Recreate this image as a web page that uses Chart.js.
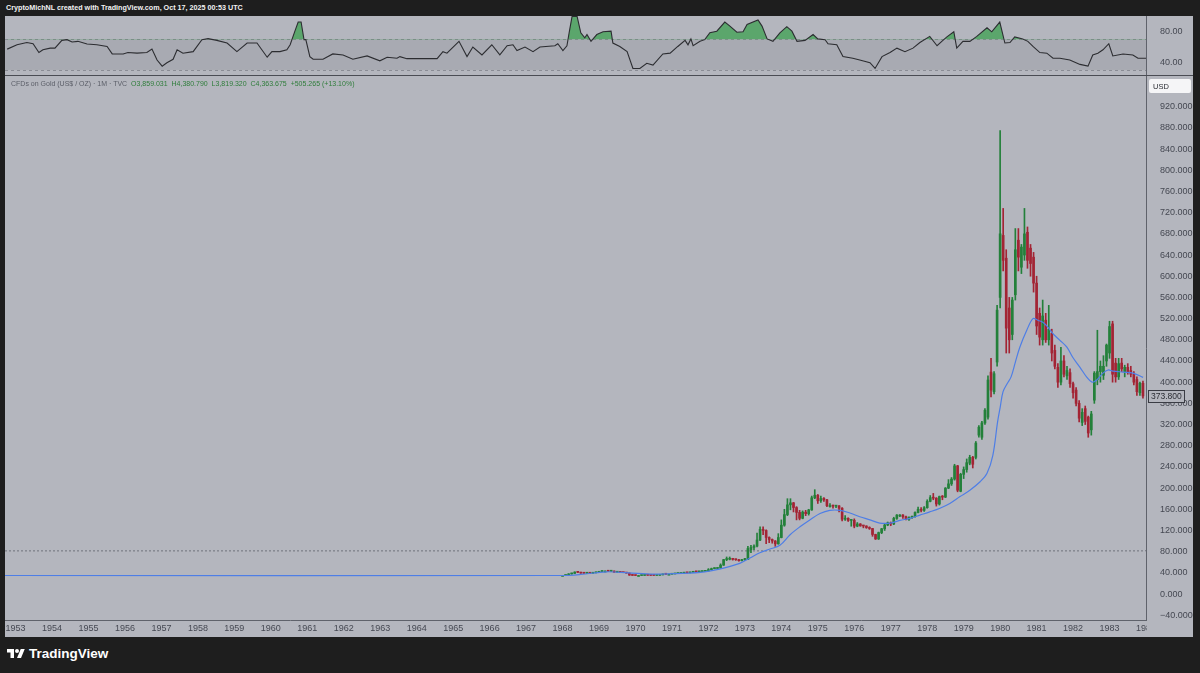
<!DOCTYPE html>
<html>
<head>
<meta charset="utf-8">
<script src="https://cdn.jsdelivr.net/npm/chart.js@4.4.0/dist/chart.umd.min.js"></script>
<style>
  html, body { margin: 0; padding: 0; background: #1e1e1e; }
  body { width: 1200px; height: 673px; position: relative; overflow: hidden; font-family: 'Liberation Sans', Arial, sans-serif; }
  #header { position: absolute; left: 6px; top: 3px; color: #f2f2f2; font-size: 7.2px; font-weight: bold; }
  #panel { position: absolute; left: 5px; top: 16px; width: 1188px; height: 621px; background: #b4b6be; }
  #rsiBox { position: absolute; left: 0; top: 0; width: 1188px; height: 59px; }
  #sep { position: absolute; left: 0; top: 59px; width: 1188px; height: 1px; background: #4a4c54; }
  #mainBox { position: absolute; left: 0; top: 60px; width: 1188px; height: 561px; }
  #legend { position: absolute; left: 6px; top: 64px; font-size: 7px; color: #5b5e68; white-space: pre; }
  #legend .v { color: #2f7d3b; }
  #logo { position: absolute; left: 7px; top: 646px; color: #fff; font-size: 13.5px; font-weight: bold; display: flex; align-items: center; gap: 4px; }
</style>
</head>
<body>
<div id="header">CryptoMichNL created with TradingView.com, Oct 17, 2025 00:53 UTC</div>
<div id="panel">
  <div id="rsiBox"><canvas id="rsi" width="1188" height="59"></canvas></div>
  <div id="sep"></div>
  <div id="mainBox"><canvas id="main" width="1188" height="561"></canvas></div>
  <div id="legend">CFDs on Gold (US$ / OZ) · 1M · TVC  <span class="v">O3,859.031  H4,380.790  L3,819.320  C4,363.675  +505.265 (+13.10%)</span></div>
</div>
<div id="logo">
  <svg width="18" height="13" viewBox="0 0 36 26"><path d="M14 22H7V11H0V4h14v18z" fill="#fff"/><circle cx="20" cy="8" r="4" fill="#fff"/><path d="M28 22h-8l7.5-18h8L28 22z" fill="#fff"/></svg>
  <span>TradingView</span>
</div>
<script>
// visible time window (fractional years) and axis ticks
const xMin = 1952.71;
const xMax = 1984.0;
const yearTicks = [1953,1954,1955,1956,1957,1958,1959,1960,1961,1962,1963,1964,1965,1966,1967,1968,
  1969,1970,1971,1972,1973,1974,1975,1976,1977,1978,1979,1980,1981,1982,1983,1984];
const priceTicks = [-40,0,40,80,120,160,200,240,280,320,360,400,440,480,520,560,600,640,680,720,760,800,840,880,920];
const rsiTicks = [40, 80];

// monthly candles, Jan 1968 .. Dec 1983
const candleStart = 1968;
const opens = [
  35.1,35.1,35.2,38.0,39.0,41.5,41.0,39.5,39.3,39.6,39.3,40.2,
  41.1,42.5,43.3,43.3,43.1,43.5,41.2,42.0,40.9,40.5,39.6,35.8,
  35.2,35.0,35.0,35.2,35.9,35.5,35.4,35.3,35.4,36.2,37.5,37.4,
  37.4,38.0,38.8,38.9,39.5,40.5,40.1,41.0,42.7,42.0,42.5,42.9,
  43.6,46.0,48.0,48.3,49.0,54.6,65.0,65.7,67.0,65.5,64.9,62.9,
  64.9,65.1,84.0,88.0,90.5,102,122,120,106.8,103,100.1,94.8,
  106.7,130,150,168.4,172.2,163.3,154.1,143,154.6,151.8,158.8,181.7,
  186.5,176,180.5,178,167,167,166,166.5,162,141.3,143,139,
  139.3,128.2,132.3,128.6,128.4,125.5,123.8,112.5,104,116,123.2,130.3,
  134.5,132.3,142.8,149.2,149.2,146,141,145,146,154,160,158,
  163,175,182,181,170,184,183,200,208,217,242,194,
  226,235,247,258,258,300,296,323,334,419,382,438,
  560,677,634,540,490,565,668,617,640,683,653,636,
  587,530,480,517,480,492,460,428,400,440,412,418,
  397,385,360,324,350,334,310,366,405,420,413,440,
  455,510,436,410,436,420,428,422,415,405,380,398
];
const highs = [
  35.2,35.2,38.5,39.5,42.0,42.0,41.3,39.8,39.8,40.0,40.5,41.5,
  42.6,43.6,43.8,43.6,43.8,43.6,42.3,42.2,41.0,40.6,39.8,36.0,
  35.3,35.2,35.3,36.0,36.0,35.6,35.5,35.5,36.3,37.6,37.7,37.5,
  38.1,38.9,39.0,39.6,40.6,40.7,41.2,43.0,42.9,42.6,43.0,43.8,
  48.0,49.0,49.5,50.0,57.0,65.5,70.0,70.0,67.5,66.0,65.5,65.5,
  67.5,90,92,93,115,127,127,121,108,104,101,114,
  140,160,180,180,173,165,158,157,158,160,185,197,
  188,185,182,179,171,168,167,167,163,148,144,141,
  142,135,133,130,129,127,124,113,117,124,132,136,
  136,145,150,150,150,147,146,147,155,164,163,165,
  178,186,190,182,185,186,201,216,220,245,243,228,
  240,255,262,260,288,318,326,350,412,445,420,545,
  875,728,650,560,560,690,690,660,728,693,660,645,
  600,540,555,530,545,500,470,435,466,450,430,425,
  400,390,365,350,355,336,345,420,498,440,450,472,
  515,515,445,445,445,432,435,430,420,410,400,402
];
const lows = [
  35.0,35.0,35.1,37.5,38.8,40.5,39.0,38.8,39.0,39.0,39.0,40.0,
  41.0,42.3,42.8,42.8,42.8,41.0,41.0,40.7,40.3,39.3,35.2,35.0,
  34.8,34.9,34.9,35.1,35.4,35.2,35.1,35.2,35.3,36.0,37.2,37.2,
  37.3,37.9,38.5,38.7,39.4,40.0,40.0,40.8,41.9,41.8,42.3,42.7,
  43.5,45.5,47.5,48.0,48.8,54.0,63.0,64.5,64.0,63.5,62.0,62.5,
  63.5,65,78,84,89,101,112,95,97,96,90,94,
  106,128,148,159,155,140,140,142,148,149,158,180,
  171,173,175,165,164,162,163,155,138,139,137,128,
  125,127,128,125,124,122,109,103,103,114,120,129,
  129,131,141,146,143,140,139,143,145,153,155,156,
  162,174,178,166,168,178,182,199,205,215,193,193,
  218,230,244,238,255,296,292,320,330,372,378,430,
  540,610,455,455,480,555,610,605,630,615,600,570,
  490,470,470,475,470,440,425,390,395,410,405,390,
  370,355,325,318,320,296,300,360,395,400,405,430,
  445,400,400,405,420,410,415,410,395,375,375,370
];
const closes = [
  35.1,35.2,38.0,39.0,41.5,41.0,39.5,39.3,39.6,39.3,40.2,41.1,
  42.5,43.3,43.3,43.1,43.5,41.2,42.0,40.9,40.5,39.6,35.8,35.2,
  35.0,35.0,35.2,35.9,35.5,35.4,35.3,35.4,36.2,37.5,37.4,37.4,
  38.0,38.8,38.9,39.5,40.5,40.1,41.0,42.7,42.0,42.5,42.9,43.6,
  46.0,48.0,48.3,49.0,54.6,65.0,65.7,67.0,65.5,64.9,62.9,64.9,
  65.1,86,88,90.5,102,122,120,106.8,103,100.1,94.8,106.7,
  130,150,168.4,172.2,163.3,154.1,143,154.6,151.8,158.8,181.7,186.5,
  176,180.5,178,167,167,166,166.5,162,141.3,143,139,139.3,
  128.2,132.3,128.6,128.4,125.5,123.8,112.5,104,116,123.2,130.3,134.5,
  132.3,142.8,149.2,149.2,146,141,145,146,154,160,158,163,
  175,182,181,170,184,183,200,208,217,242,196,226,
  235,248,258,245,285,315,323,347,404,385,416,536,
  680,630,502,480,555,650,636,655,680,630,624,587,
  506,485,525,480,500,455,430,400,440,415,422,397,
  380,360,332,343,326,304,340,417,420,430,430,470,
  505,415,410,435,425,428,420,415,400,382,398,374
];

// moving average line: [year, price]
const maYears = [1952.71,1968.0,1968.5,1969.2,1969.8,1970.5,1971.3,1971.9,1972.3,1972.86,1973.14,1973.41,1973.69,1973.96,
  1974.24,1974.51,1974.78,1975.06,1975.33,1975.61,1975.88,1976.15,1976.43,1976.70,1976.98,1977.25,1977.53,1977.80,
  1978.07,1978.35,1978.62,1978.90,1979.17,1979.45,1979.64,1979.80,1979.93,1980.0,1980.08,1980.2,1980.3,1980.41,
  1980.54,1980.73,1980.90,1981.03,1981.17,1981.31,1981.44,1981.64,1981.83,1981.99,1982.19,1982.38,1982.52,1982.65,
  1982.82,1982.96,1983.09,1983.37,1983.64,1983.92];
const maValues = [35,35,37,42,40,37.5,39,42,47,58,68,78,85,92,
  112,127,140,152,158,158,153,146,140,134,134,139,143,149,
  155,162,171,184,196,212,228,262,325,352,382,398,410,436,
  466,498,520,517,513,504,492,479,466,447,428,409,400,404,
  417,423,421,419,417,409];

// horizontal level line
const levelPrice = 81.5;
const lastPrice = 373.8;

// RSI pane readings: [year, rsi]
const rsiYears = [1952.77,1953.04,1953.31,1953.48,1953.64,1953.75,1953.95,1954.08,1954.27,1954.41,1954.55,1954.71,1954.96,
  1955.23,1955.51,1955.65,1955.95,1956.08,1956.33,1956.60,1956.74,1956.88,1957.02,1957.15,1957.32,1957.43,1957.59,1957.87,
  1958.11,1958.28,1958.52,1958.80,1959.07,1959.35,1959.62,1959.90,1960.03,1960.25,1960.44,1960.53,1960.66,1960.75,1960.83,
  1960.91,1960.96,1961.07,1961.16,1961.43,1961.70,1961.98,1962.25,1962.64,1962.99,1963.19,1963.46,1963.54,1963.73,1964.56,
  1964.72,1964.83,1965.16,1965.38,1965.54,1965.79,1966.06,1966.28,1966.48,1966.64,1966.75,1966.97,1967.19,1967.38,1967.79,
  1967.87,1968.01,1968.12,1968.18,1968.26,1968.40,1968.50,1968.61,1968.67,1968.78,1968.94,1969.11,1969.33,1969.38,1969.57,
  1969.77,1969.93,1970.12,1970.31,1970.48,1970.75,1970.95,1971.16,1971.36,1971.44,1971.52,1971.58,1971.77,1971.90,1972.04,
  1972.23,1972.45,1972.59,1972.78,1972.95,1973.06,1973.36,1973.47,1973.61,1973.77,1973.96,1974.15,1974.29,1974.43,1974.65,
  1974.87,1975.00,1975.20,1975.28,1975.52,1975.69,1975.96,1976.15,1976.43,1976.57,1976.76,1976.98,1977.17,1977.39,1977.61,
  1977.80,1978.07,1978.27,1978.40,1978.54,1978.73,1978.81,1978.98,1979.17,1979.36,1979.64,1979.77,1979.99,1980.13,1980.27,
  1980.40,1980.62,1980.76,1980.90,1981.09,1981.28,1981.45,1981.64,1981.91,1982.19,1982.41,1982.54,1982.68,1982.82,1982.98,
  1983.09,1983.37,1983.64,1983.78,1984.0];
const rsiValues = [57.3,63,66,64.4,52.8,56.4,58.6,58.6,68.8,69.7,66.6,67.5,64,
  63,60.8,51,51,52.8,52,52.8,57.3,43,35,39.5,44,56.4,52,54,
  69.7,71,68.8,65.3,54,65.3,65.3,46.7,54,54,56.4,63,80.8,92.8,92.8,
  69.7,69.7,47.5,44,44,51,49.7,44,48.4,42,46.7,45.3,47.5,44.8,44.8,
  54,52,67.5,47.5,60,49.7,63,49.7,61.7,63,55.5,60,54,60,61.7,
  64.4,55.5,61.7,78.7,100,100,78.7,72,76.4,67.5,76.4,80,80.8,65.3,60.8,
  54,32,32,38.7,36.4,51,52,60.8,68.8,63,70.7,61.7,67.5,69.7,78.7,
  80.8,92.8,87.5,79.5,80,89.7,95.5,87.5,70.7,67.5,78.7,86.7,80.8,67.5,68.8,
  76.4,70.7,69.7,64.4,63,47.5,45.3,43,39.5,32,47.5,52.8,58.6,54,58.6,
  66,74,61.7,67.5,73.3,80,58.6,67.5,67.5,74,85.3,80,92.8,65.3,66,
  73.3,70.7,67.5,60.8,52.8,52,45.3,45.3,43,37.3,35,49.7,52,56.4,64.4,
  48.4,51,49.7,45.3,45.3];
const rsiUpper = 70;
const rsiLower = 30;

Chart.defaults.animation = false;
Chart.defaults.font.family = "'Liberation Sans', Arial, sans-serif";
Chart.defaults.font.size = 9;
Chart.defaults.color = '#454852';

const bg = '#b4b6be';
const greenC = '#23803a';
const redC = '#a32434';
const candleX = closes.map((c, i) => candleStart + i / 12);
const candleColors = closes.map((c, i) => c >= opens[i] ? greenC : redC);

function fixAxis(w, h) {
  return function (scale) {
    if (w !== null) scale.width = w;
    if (h !== null) scale.height = h;
    scale.paddingLeft = 0; scale.paddingRight = 0;
    scale.paddingTop = 0; scale.paddingBottom = 0;
  };
}

const mainLabels = {
  id: 'mainLabels',
  afterDraw(chart) {
    const { ctx, chartArea, width, height } = chart;
    const ys = chart.scales.y;
    ctx.save();
    // clip year labels running under the price axis
    ctx.fillStyle = bg;
    ctx.fillRect(chartArea.right + 1, chartArea.bottom + 1, width - chartArea.right, height - chartArea.bottom);
    // currency box
    ctx.fillStyle = '#f5f5f7';
    ctx.beginPath();
    ctx.roundRect(chartArea.right + 3, 3, 42, 14, 2);
    ctx.fill();
    ctx.fillStyle = '#2a2c33';
    ctx.font = "7.5px 'Liberation Sans', Arial, sans-serif";
    ctx.textBaseline = 'middle';
    ctx.fillText('USD', chartArea.right + 7, 10.5);
    // last price box
    const py = Math.round(ys.getPixelForValue(lastPrice)) + 0.5;
    ctx.fillStyle = bg;
    ctx.fillRect(chartArea.right + 2, py - 6, 37, 12);
    ctx.strokeStyle = '#3a3c44';
    ctx.lineWidth = 1;
    ctx.strokeRect(chartArea.right + 2.5, py - 6, 36, 12);
    ctx.fillStyle = '#2a2c33';
    ctx.font = "8.5px 'Liberation Sans', Arial, sans-serif";
    ctx.fillText(lastPrice.toFixed(3), chartArea.right + 5, py + 0.5);
    ctx.restore();
  }
};

new Chart(document.getElementById('main'), {
  type: 'bar',
  data: {
    datasets: [
      {
        type: 'line',
        data: [{ x: xMin, y: levelPrice }, { x: xMax, y: levelPrice }],
        borderColor: '#6f727b', borderWidth: 1, borderDash: [2, 2],
        pointRadius: 0, order: 5
      },
      {
        data: candleX.map((x, i) => ({ x, y: [lows[i], highs[i]] })),
        backgroundColor: candleColors, barThickness: 1, grouped: false, order: 3
      },
      {
        data: candleX.map((x, i) => ({ x, y: [opens[i], closes[i]] })),
        backgroundColor: candleColors, barThickness: 2, minBarLength: 1, grouped: false, order: 2
      },
      {
        type: 'line',
        data: maYears.map((x, i) => ({ x, y: maValues[i] })),
        borderColor: '#4e7ee6', borderWidth: 1.2, pointRadius: 0, tension: 0.35, order: 1
      }
    ]
  },
  options: {
    responsive: false,
    layout: { padding: 0 },
    plugins: { legend: { display: false }, tooltip: { enabled: false } },
    scales: {
      x: {
        type: 'linear', min: xMin, max: xMax, offset: false,
        grid: { display: false, drawTicks: false },
        border: { display: true, color: '#5f626b' },
        afterBuildTicks: s => { s.ticks = yearTicks.map(v => ({ value: v })); },
        afterFit: fixAxis(null, 17),
        ticks: { padding: 3, maxRotation: 0, autoSkip: false, callback: v => String(v) }
      },
      y: {
        position: 'right', min: -49, max: 978,
        grid: { display: false },
        border: { display: true, color: '#5f626b' },
        afterBuildTicks: s => { s.ticks = priceTicks.map(v => ({ value: v })); },
        afterFit: fixAxis(47, null),
        ticks: { padding: 6, callback: v => v.toFixed(3).replace('-', '\u2212') }
      }
    }
  },
  plugins: [mainLabels]
});

const rsiBand = {
  id: 'rsiBand',
  beforeDatasetsDraw(chart) {
    const { ctx, chartArea } = chart;
    const ys = chart.scales.y;
    const yTop = ys.getPixelForValue(rsiUpper);
    const yBot = ys.getPixelForValue(rsiLower);
    ctx.save();
    ctx.fillStyle = '#a8aab2';
    ctx.fillRect(chartArea.left, yTop, chartArea.width, yBot - yTop);
    ctx.strokeStyle = '#8a8c95';
    ctx.setLineDash([3, 3]);
    ctx.lineWidth = 1;
    [yTop, yBot].forEach(y => {
      ctx.beginPath();
      ctx.moveTo(chartArea.left, Math.round(y) + 0.5);
      ctx.lineTo(chartArea.right, Math.round(y) + 0.5);
      ctx.stroke();
    });
    ctx.restore();
  }
};

new Chart(document.getElementById('rsi'), {
  type: 'line',
  data: {
    datasets: [{
      data: rsiYears.map((x, i) => ({ x, y: rsiValues[i] })),
      borderColor: '#2c2d31', borderWidth: 1.1, pointRadius: 0, tension: 0,
      fill: { target: { value: rsiUpper }, above: 'rgba(52,160,72,0.7)', below: 'rgba(0,0,0,0)' }
    }]
  },
  options: {
    responsive: false,
    layout: { padding: 0 },
    plugins: { legend: { display: false }, tooltip: { enabled: false } },
    scales: {
      x: { type: 'linear', min: xMin, max: xMax, display: false },
      y: {
        position: 'right', min: 23.4, max: 100.7,
        grid: { display: false },
        border: { display: true, color: '#5f626b' },
        afterBuildTicks: s => { s.ticks = rsiTicks.map(v => ({ value: v })); },
        afterFit: fixAxis(47, null),
        ticks: { padding: 6, callback: v => v.toFixed(2) }
      }
    }
  },
  plugins: [rsiBand]
});
</script>
</body>
</html>
